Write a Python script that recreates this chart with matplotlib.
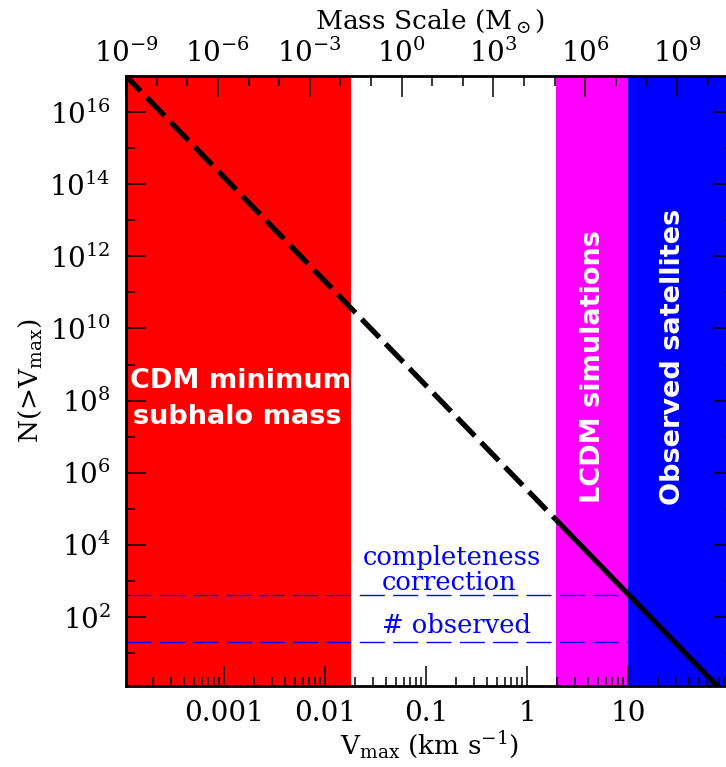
import matplotlib
matplotlib.use('Agg')
import matplotlib.pyplot as plt
from matplotlib.ticker import FixedLocator, FixedFormatter, LogLocator, NullFormatter

plt.rcParams['font.family'] = 'DejaVu Serif'
plt.rcParams['mathtext.fontset'] = 'dejavuserif'

# power law N(>Vmax)
# dashed part = extrapolation, solid part = range covered by simulations
vmax_extrap = [1e-4, 1e-3, 1e-2, 1e-1, 1.0, 1.94]
n_extrap = [1.22e17, 1.57e14, 2.03e11, 2.61e8, 3.37e5, 4.94e4]
vmax_sim = [1.94, 10.0, 100.0]
n_sim = [4.94e4, 4.34e2, 0.56]

# shaded regions (km/s)
cdm_min_vmax = 0.018
lcdm_range = (1.94, 10.0)
obs_range = (10.0, 1000.0)

# horizontal reference counts
n_completeness = 400
n_observed = 20

# mass scale on the top axis, M = norm * Vmax^slope
mass_norm = 10 ** 4.1
mass_slope = 3.3
mass_ticks = [1e-9, 1e-6, 1e-3, 1e0, 1e3, 1e6, 1e9]
mass_labels = [r'$10^{-9}$', r'$10^{-6}$', r'$10^{-3}$', r'$10^{0}$',
               r'$10^{3}$', r'$10^{6}$', r'$10^{9}$']

v_ticks = [0.001, 0.01, 0.1, 1, 10]
v_labels = ['0.001', '0.01', '0.1', '1', '10']
n_ticks = [1e2, 1e4, 1e6, 1e8, 1e10, 1e12, 1e14, 1e16]
n_labels = [r'$10^{%d}$' % e for e in range(2, 17, 2)]

xlim = (1.07e-4, 112)
ylim = (1.22, 1e17)


def to_mass(v):
    return mass_norm * v ** mass_slope


fig = plt.figure(figsize=(7.26, 7.67), dpi=100)
ax = fig.add_axes([126 / 726, 81 / 767, 608 / 726, 610 / 767])

ax.axvspan(1e-6, cdm_min_vmax, color='#ff0000', lw=0, zorder=0)
ax.axvspan(lcdm_range[0], lcdm_range[1], color='#ff00ff', lw=0, zorder=0)
ax.axvspan(obs_range[0], obs_range[1], color='#0000ff', lw=0, zorder=0)

for n in [n_completeness, n_observed]:
    ax.axhline(n, color='#0000ff', lw=1.0, dashes=(18, 6), zorder=1)

ax.plot(vmax_extrap, n_extrap, color='black', lw=3.8, dashes=(4.8, 1.7),
        dash_capstyle='butt', zorder=3)
ax.plot(vmax_sim, n_sim, color='black', lw=3.8, solid_capstyle='butt', zorder=3)

ax.set_xscale('log')
ax.set_yscale('log')
ax.set_xlim(xlim)
ax.set_ylim(ylim)

ax.xaxis.set_major_locator(FixedLocator(v_ticks))
ax.xaxis.set_major_formatter(FixedFormatter(v_labels))
ax.xaxis.set_minor_locator(LogLocator(base=10, subs=range(2, 10), numticks=50))
ax.xaxis.set_minor_formatter(NullFormatter())
ax.yaxis.set_major_locator(FixedLocator(n_ticks))
ax.yaxis.set_major_formatter(FixedFormatter(n_labels))
ax.yaxis.set_minor_locator(LogLocator(base=10, subs=[1.0], numticks=50))
ax.yaxis.set_minor_formatter(NullFormatter())

ax.tick_params(which='both', direction='in', top=False, right=True, width=1.1)
ax.tick_params(which='major', length=14.5, labelsize=20)
ax.tick_params(which='minor', length=6.5)
ax.tick_params(axis='x', which='major', pad=10)
ax.tick_params(axis='y', which='major', pad=11)
for s in ax.spines.values():
    s.set_linewidth(2)

ax.set_xlabel(r'V$_{\rm max}$ (km s$^{-1}$)', fontsize=19, labelpad=2)
ax.set_ylabel(r'N(>V$_{\rm max}$)', fontsize=19, labelpad=4)

ax2 = ax.twiny()
ax2.set_xscale('log')
ax2.set_xlim(to_mass(xlim[0]), to_mass(xlim[1]))
ax2.xaxis.set_major_locator(FixedLocator(mass_ticks))
ax2.xaxis.set_major_formatter(FixedFormatter(mass_labels))
ax2.xaxis.set_minor_locator(LogLocator(base=10, subs=[1.0], numticks=50))
ax2.xaxis.set_minor_formatter(NullFormatter())
ax2.tick_params(which='both', direction='in', width=1.1)
ax2.tick_params(which='major', length=15, labelsize=20, pad=6)
ax2.tick_params(which='minor', length=7.5)
ax2.set_xlabel(r'Mass Scale (M$_\odot$)', fontsize=19)
ax2.xaxis.set_label_coords(0.5, 1.078)

bold = dict(color='white', fontsize=19.5, fontweight='bold', family='DejaVu Sans',
            ha='center', va='center', transform=ax.transAxes, zorder=4)
ax.text(0.1875, 0.500, 'CDM minimum', **bold)
ax.text(0.1826, 0.441, 'subhalo mass', **bold)
ax.text(0.768, 0.523, 'LCDM simulations', rotation=90, **bold)
ax.text(0.900, 0.539, 'Observed satellites', rotation=90, **bold)

blue = dict(color='#0000ff', fontsize=18.5, ha='center', va='center',
            transform=ax.transAxes, zorder=4)
ax.text(0.536, 0.210, 'completeness', **blue)
ax.text(0.531, 0.170, 'correction', **blue)
ax.text(0.543, 0.099, '# observed', **blue)

fig.savefig('out.png', dpi=100)
